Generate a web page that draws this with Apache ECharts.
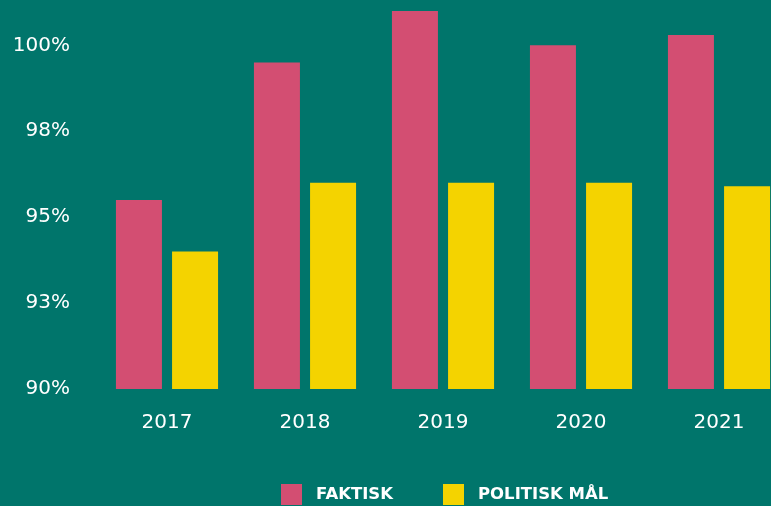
<!DOCTYPE html>
<html>
<head>
<meta charset="utf-8">
<script src="https://cdn.jsdelivr.net/npm/echarts@6/dist/echarts.min.js"></script>
<style>
  html, body { margin: 0; padding: 0; background: #00756b; overflow: hidden; }
  /* the plot runs a bit past the right edge of the 771px frame */
  #chart { width: 788px; height: 506px; }
</style>
</head>
<body>
<div id="chart"></div>
<script>
  var years = ['2017', '2018', '2019', '2020', '2021'];
  var faktisk = [95.5, 99.5, 101.0, 100.0, 100.3];
  var politiskMal = [94.0, 96.0, 96.0, 96.0, 95.9];
  var seriesNames = ['FAKTISK', 'POLITISK MÅL'];

  var font = 'DejaVu Sans';

  var option = {
    backgroundColor: '#00756b',
    animation: false,
    color: ['#d34e72', '#f4d300'],
    grid: {
      left: 98,
      top: 11,
      bottom: 117,
      right: 0
    },
    legend: {
      left: 281,
      top: 484,
      padding: 0,
      itemWidth: 21,
      itemHeight: 21,
      itemGap: 50,
      icon: 'rect',
      data: seriesNames,
      textStyle: {
        color: '#ffffff',
        fontFamily: font,
        fontWeight: 'bold',
        fontSize: 16.5,
        padding: [0, 0, 0, 9]
      }
    },
    xAxis: {
      type: 'category',
      data: years,
      axisLine: { show: false },
      axisTick: { show: false },
      axisLabel: {
        color: '#ffffff',
        fontFamily: font,
        fontSize: 20,
        margin: 24
      }
    },
    yAxis: {
      type: 'value',
      min: 90,
      max: 101,
      interval: 2.5,
      splitLine: { show: false },
      axisLine: { show: false },
      axisTick: { show: false },
      axisLabel: {
        color: '#ffffff',
        fontFamily: font,
        fontSize: 20,
        margin: 28,
        showMaxLabel: false,
        formatter: function (v) {
          return Math.round(v) + '%';
        }
      }
    },
    series: [
      {
        name: seriesNames[0],
        type: 'bar',
        data: faktisk,
        barWidth: 46,
        barGap: '22%'
      },
      {
        name: seriesNames[1],
        type: 'bar',
        data: politiskMal,
        barWidth: 46,
        barGap: '22%'
      }
    ]
  };

  var chart = echarts.init(document.getElementById('chart'));
  chart.setOption(option);
</script>
</body>
</html>
